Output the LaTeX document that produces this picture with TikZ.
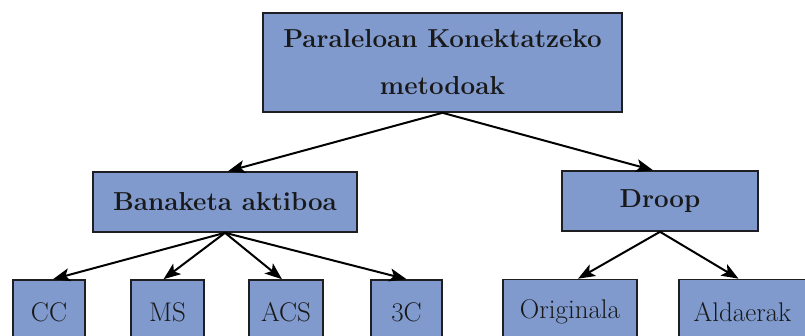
\documentclass[tikz,border=0pt]{standalone}
\usepackage{fontspec}
\usetikzlibrary{arrows.meta}
\definecolor{boxblue}{RGB}{128,154,206}
\definecolor{edge}{RGB}{30,30,35}
\begin{document}
\begin{tikzpicture}[x=1pt,y=-1pt,
  box/.style={draw=edge, line width=1.6pt, fill=boxblue, inner sep=0pt, text=black!90},
  bigtxt/.style={font=\fontsize{26}{47}\selectfont\bfseries},
  leaftxt/.style={font=\fontsize{27}{30}\selectfont},
  arr/.style={-{Stealth[length=17pt,width=13pt,inset=4pt]}, line width=2pt, draw=black}]
\useasboundingbox (0,0) rectangle (805,336);
\clip (0,0) rectangle (805,336);
\node[box, bigtxt, align=center, minimum width=359pt, minimum height=99pt] (top) at (442.5,62.5) {Paraleloan Konektatzeko\\metodoak\hspace{20pt}};
\node[box, bigtxt, minimum width=264pt, minimum height=60pt] (ban) at (225,202) {Banaketa aktiboa};
\node[box, bigtxt, minimum width=196pt, minimum height=60pt] (droop) at (660,201) {Droop};
\node[box, leaftxt, minimum width=72pt, minimum height=65pt] (cc) at (49,312.5) {CC};
\node[box, leaftxt, minimum width=73pt, minimum height=65pt] (ms) at (167.5,312.5) {MS};
\node[box, leaftxt, minimum width=74pt, minimum height=65pt] (acs) at (286,312.5) {ACS};
\node[box, leaftxt, minimum width=71pt, minimum height=65pt] (c3) at (406.5,312.5) {3C};
\node[box, leaftxt, minimum width=134pt, minimum height=65pt] (orig) at (570,312) {Originala};
\node[box, leaftxt, minimum width=127pt, minimum height=65pt] (ald) at (742.5,312) {Aldaerak};
\draw[arr] (top.south) -- ([xshift=3pt]ban.north);
\draw[arr] (top.south) -- ([xshift=-7pt]droop.north);
\draw[arr] (ban.south) -- ([xshift=4pt]cc.north);
\draw[arr] (ban.south) -- ([xshift=-4pt]ms.north);
\draw[arr] (ban.south) -- ([xshift=-4pt]acs.north);
\draw[arr] (ban.south) -- (c3.north);
\draw[arr] (droop.south) -- ([xshift=8pt]orig.north);
\draw[arr] (droop.south) -- ([xshift=-4pt]ald.north);
\end{tikzpicture}
\end{document}
